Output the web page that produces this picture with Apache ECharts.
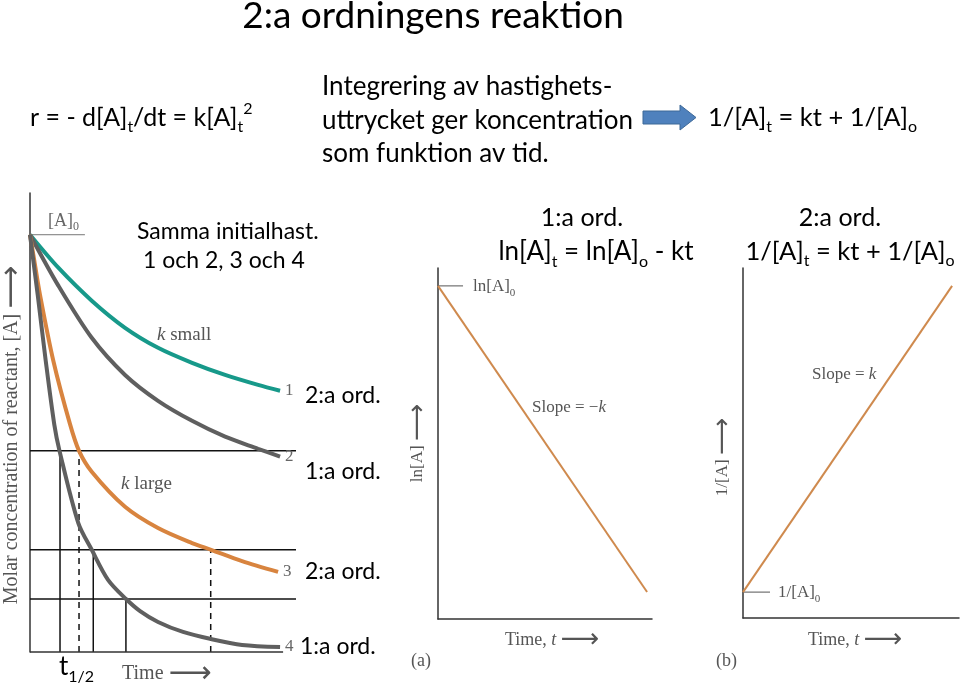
<!DOCTYPE html>
<html><head><meta charset="utf-8">
<script src="https://cdn.jsdelivr.net/npm/echarts@6/dist/echarts.min.js"></script>
<style>html,body{margin:0;padding:0;background:#fff}#c{width:960px;height:688px}</style>
</head><body><div id="c"></div>
<script>
// ---- data (t in arbitrary time units, [A] relative to [A]0) ----
const curve1 = [[0,1],[1.119,0.921],[2.439,0.842],[3.755,0.777],[5.059,0.729],[6.403,0.693],[7.708,0.664],[9.012,0.640],[9.881,0.626]];
const curve2 = [[0,1],[1.119,0.878],[2.439,0.753],[3.755,0.664],[5.059,0.602],[6.403,0.554],[7.708,0.516],[9.012,0.487],[9.881,0.468]];
const curve3 = [[0,1],[0.170,0.938],[0.395,0.856],[0.921,0.698],[1.581,0.546],[1.937,0.482],[2.439,0.432],[3.755,0.348],[5.059,0.297],[6.403,0.261],[7.154,0.245],[8.379,0.218],[9.802,0.192]];
const curve4 = [[0,1],[0.130,0.938],[0.304,0.856],[0.621,0.698],[0.960,0.545],[1.166,0.482],[1.909,0.309],[2.439,0.245],[3.083,0.173],[3.794,0.127],[4.35,0.098],[5.059,0.072],[6.047,0.048],[7.154,0.031],[8.379,0.017],[9.881,0.012]];
const curveNames = ['1','2','3','4'];
const halfLevels = [0.482, 0.245, 0.127];
const guideEnd = 10.51;
const timeAxisEnd = 10;
const solidDrops = [[1.186,0.482],[2.50,0.245],[3.79,0.127]];
const dashedDrops = [[1.937,0.482],[7.14,0.245]];
const a0Tick = [[0,1],[2.17,1]];
const lnLine = [[0,9.49],[9.77,0.77]];
const lnTick = [[0,9.49],[1.17,9.49]];
const invLine = [[0,0.74],[9.68,9.49]];
const invTick = [[0,0.74],[1.25,0.74]];

const sans = 'Lato, "Open Sans", "Noto Sans", sans-serif';
const serif = '"Liberation Serif", "DejaVu Serif", serif';
const TEAL = '#17998a', GRAY = '#5f5f5f', ORANGE = '#d8843f', LORANGE = '#cf8a4e';

function axisPair(gi, xmax, ymax, showX) {
  const common = {axisTick:{show:false}, axisLabel:{show:false}, splitLine:{show:false},
    axisLine:{show:true, lineStyle:{color:'#333', width:1.5}}};
  const xa = Object.assign({type:'value', gridIndex:gi, min:0, max:xmax}, common);
  if (showX === false) xa.axisLine = {show:false};
  return [xa, Object.assign({type:'value', gridIndex:gi, min:0, max:ymax}, common)];
}
const ax0 = axisPair(0, guideEnd, 1.1, false), ax1 = axisPair(1, 10, 10), ax2 = axisPair(2, 10, 10);

const series = [];
function seg(data, gi, color, width, type, z) {
  series.push({type:'line', xAxisIndex:gi, yAxisIndex:gi, data:data, symbol:'none', clip:false,
    silent:true, z:z||2, lineStyle:{color:color, width:width, type:type||'solid'}});
}
seg([[0,0],[timeAxisEnd,0]], 0, '#333', 1.5, 'solid', 3);
halfLevels.forEach(v => seg([[0,v],[guideEnd,v]], 0, '#111', 1.5));
solidDrops.forEach(p => seg([[p[0],0],p], 0, '#111', 1.5));
dashedDrops.forEach(p => seg([[p[0],0],p], 0, '#111', 1.5, [6,5]));
seg(a0Tick, 0, '#777', 1);

[[curve1,TEAL],[curve2,GRAY],[curve3,ORANGE],[curve4,GRAY]].forEach((c,i) => {
  series.push({type:'line', name:curveNames[i], xAxisIndex:0, yAxisIndex:0, data:c[0], symbol:'none',
    smooth:0.3, z:5, lineStyle:{color:c[1], width:4},
    endLabel:{show:true, formatter:curveNames[i], color:'#666', fontFamily:serif, fontSize:17, distance:5}});
});
series.push({type:'line', xAxisIndex:1, yAxisIndex:1, data:lnLine, symbol:'none', z:5, lineStyle:{color:LORANGE, width:2}});
seg(lnTick, 1, '#555', 1);
series.push({type:'line', xAxisIndex:2, yAxisIndex:2, data:invLine, symbol:'none', z:5, lineStyle:{color:LORANGE, width:2}});
seg(invTick, 2, '#555', 1);

// ---- texts ----
function richSans(sz) {
  const s = Math.round(sz*0.62);
  return {
    s:{fontSize:s, fontFamily:sans, verticalAlign:'bottom', lineHeight:s},
    p:{fontSize:s, fontFamily:sans, verticalAlign:'top', lineHeight:s}
  };
}
function richSerif(sz) {
  return {
    s:{fontSize:Math.round(sz*0.65), fontFamily:serif, verticalAlign:'bottom', lineHeight:Math.round(sz*0.65)},
    i:{fontSize:sz, fontFamily:serif, fontStyle:'italic'},
    a:{fontSize:Math.round(sz*1.5), fontFamily:'"DejaVu Sans", sans-serif', fontWeight:'normal'}
  };
}
function T(x, y, text, o) {
  o = o || {};
  const isSerif = o.serif;
  const sz = o.size || 26;
  const st = {text:text, x:0, y:0, fill:o.fill || (isSerif ? '#555' : '#000'),
    fontFamily: isSerif ? serif : sans, fontSize:sz,
    align:o.align || 'left', verticalAlign:'middle',
    lineHeight:o.lh || Math.round(sz*1.35), rich: isSerif ? richSerif(sz) : richSans(sz)};
  return {type:'text', x:x, y:y, rotation:o.rot || 0, z:100, silent:true, style:st};
}
const R = Math.PI/2;
const AR = '{a|\u27F6}';
const graphic = [
  T(433, 16, '2:a ordningens reaktion', {size:37, align:'center', lh:44}),
  T(30, 118, 'r = - d[A]{s|t}/dt = k[A]{s|t}{p|2}', {size:25}),
  T(322, 87, 'Integrering av hastighets-', {size:26}),
  T(322, 121, 'uttrycket ger koncentration', {size:26}),
  T(322, 154, 'som funktion av tid.', {size:26}),
  T(708, 118, '1/[A]{s|t} = kt + 1/[A]{s|o}', {size:25.5}),
  {type:'polygon', z:100, silent:true,
    shape:{points:[[643,111],[680,111],[680,105],[696,117.5],[680,130],[680,124],[643,124]]},
    style:{fill:'#4f81bd', stroke:'#3d6897', lineWidth:1}},
  // left panel
  T(137, 232, 'Samma initialhast.', {size:23}),
  T(143, 261, '1 och 2, 3 och 4', {size:23}),
  T(48, 221, '[A]{s|0}', {serif:true, size:18, fill:'#666'}),
  T(157, 335, '{i|k} small', {serif:true, size:19}),
  T(121, 484, '{i|k} large', {serif:true, size:19}),
  T(305, 396, '2:a ord.', {size:23}),
  T(305, 472, '1:a ord.', {size:23}),
  T(305, 572, '2:a ord.', {size:23}),
  T(300, 647, '1:a ord.', {size:23}),
  T(59, 667, 't{s|1/2}', {size:26}),
  T(122, 674, 'Time ' + AR, {serif:true, size:20}),
  T(12, 435, 'Molar concentration of reactant, [A] ' + AR, {serif:true, size:20, align:'center', rot:R}),
  // panel a
  T(582, 218, '1:a ord.', {size:25, align:'center'}),
  T(596, 252, 'ln[A]{s|t} = ln[A]{s|o} - kt', {size:26, align:'center'}),
  T(473, 287, 'ln[A]{s|0}', {serif:true, size:17}),
  T(532, 408, 'Slope = \u2212{i|k}', {serif:true, size:17}),
  T(418, 443, 'ln[A] ' + AR, {serif:true, size:17, align:'center', rot:R}),
  T(505, 640, 'Time, {i|t} ' + AR, {serif:true, size:18}),
  T(411, 661, '(a)', {serif:true, size:18}),
  // panel b
  T(840, 218, '2:a ord.', {size:25, align:'center'}),
  T(850, 252, '1/[A]{s|t} = kt + 1/[A]{s|o}', {size:25.5, align:'center'}),
  T(812, 375, 'Slope = {i|k}', {serif:true, size:17}),
  T(778, 593, '1/[A]{s|0}', {serif:true, size:17}),
  T(723, 457, '1/[A] ' + AR, {serif:true, size:17, align:'center', rot:R}),
  T(808, 640, 'Time, {i|t} ' + AR, {serif:true, size:18}),
  T(716, 661, '(b)', {serif:true, size:18})
];

const chart = echarts.init(document.getElementById('c'), null, {renderer:'canvas'});
chart.setOption({
  animation:false,
  backgroundColor:'#fff',
  grid:[
    {left:30, top:193, width:266, height:459},
    {left:438, top:268, width:214, height:351},
    {left:743, top:268, width:216, height:350}
  ],
  xAxis:[ax0[0], ax1[0], ax2[0]],
  yAxis:[ax0[1], ax1[1], ax2[1]],
  series:series,
  graphic:graphic
});
</script></body></html>
